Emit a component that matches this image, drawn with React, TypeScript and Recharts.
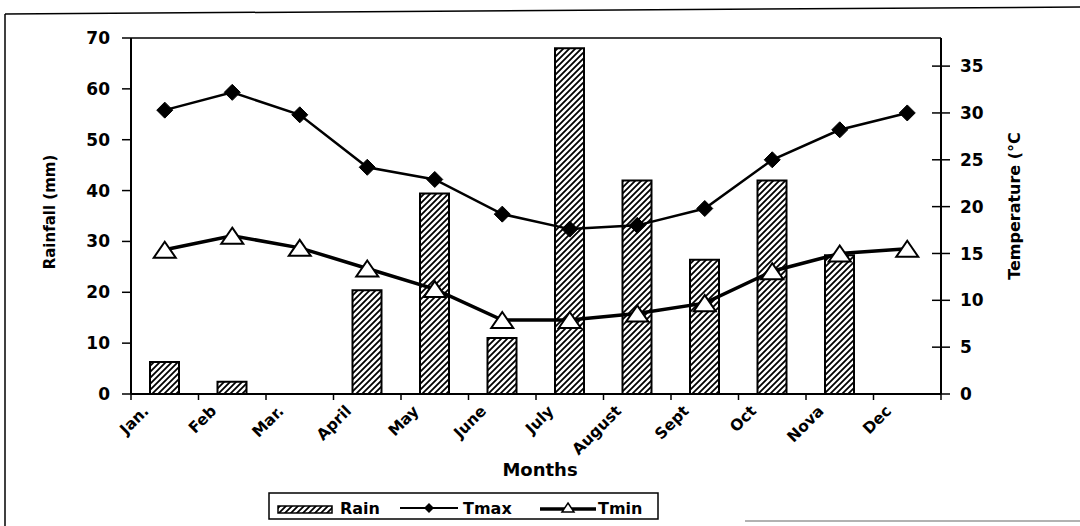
import React from "react";
import { ComposedChart, Bar, Line, XAxis, YAxis, ReferenceLine, Label } from "recharts";

const MONTHS = ["Jan.", "Feb", "Mar.", "April", "May", "June", "July", "August", "Sept", "Oct", "Nova", "Dec"];
const RAIN = [6.3, 2.4, 0, 20.4, 39.4, 11, 68, 42, 26.4, 42, 27.3, 0];
const TMAX = [30.3, 32.2, 29.8, 24.2, 22.9, 19.2, 17.6, 18.0, 19.8, 25.0, 28.2, 30.0];
const TMIN = [15.4, 16.9, 15.6, 13.4, 11.2, 7.9, 7.9, 8.6, 9.7, 13.1, 15.0, 15.5];
const LEFT_TICKS = [0, 10, 20, 30, 40, 50, 60, 70];
const RIGHT_TICKS = [0, 5, 10, 15, 20, 25, 30, 35];
const LEGEND_NAMES = ["Rain", "Tmax", "Tmin"];

const data = MONTHS.map((m, i) => ({ month: m, rain: RAIN[i], tmax: TMAX[i], tmin: TMIN[i] }));

const W = 1080;
const H = 526;
const FONT = "'DejaVu Sans', sans-serif";
const MARGIN = { top: 38, right: 20, bottom: 52, left: 20 };
const LEFT_W = 111;
const RIGHT_W = 119;
const PLOT_L = MARGIN.left + LEFT_W;
const PLOT_R = W - MARGIN.right - RIGHT_W;
const HALF_BAND = (PLOT_R - PLOT_L) / MONTHS.length / 2;

const MonthTick = (props: any) => {
  const { x, y, payload, index } = props;
  const off = payload && typeof payload.offset === "number" && payload.offset > 0 ? payload.offset : HALF_BAND;
  const tx = x - 15;
  const ty = y + 18;
  return (
    <g>
      <line x1={x - off} x2={x - off} y1={y} y2={y + 6} stroke="#000" strokeWidth={1.5} />
      {index === MONTHS.length - 1 && (
        <line x1={x + off} x2={x + off} y1={y} y2={y + 6} stroke="#000" strokeWidth={1.5} />
      )}
      <text
        x={tx}
        y={ty}
        transform={`rotate(-45, ${tx}, ${ty})`}
        textAnchor="end"
        fontFamily={FONT}
        fontWeight="bold"
        fontSize={15.5}
        fill="#000"
      >
        {payload.value}
      </text>
    </g>
  );
};

const RIGHT_TICK_SIZE = 9;
const RIGHT_TICK_MARGIN = 10;
const RightTick = (props: any) => {
  const { x, y, payload } = props;
  const ax = x - RIGHT_TICK_SIZE - RIGHT_TICK_MARGIN;
  return (
    <g>
      <line x1={ax - RIGHT_TICK_SIZE} x2={ax + RIGHT_TICK_SIZE} y1={y} y2={y} stroke="#000" strokeWidth={1.5} />
      <text x={x} y={y} dy="0.36em" textAnchor="start" fontFamily={FONT} fontWeight="bold" fontSize={17} fill="#000">
        {payload.value}
      </text>
    </g>
  );
};

const Diamond = (props: any) => {
  const { cx, cy, index } = props;
  if (cx == null || cy == null) return <g key={`d${index}`} />;
  const r = 8;
  return (
    <path
      key={`d${index}`}
      d={`M${cx},${cy - r} L${cx + r},${cy} L${cx},${cy + r} L${cx - r},${cy} Z`}
      fill="#000"
      stroke="#000"
    />
  );
};

const Triangle = (props: any) => {
  const { cx, cy, index } = props;
  if (cx == null || cy == null) return <g key={`t${index}`} />;
  const hw = 11;
  const hh = 8;
  return (
    <path
      key={`t${index}`}
      d={`M${cx},${cy - hh} L${cx + hw},${cy + hh} L${cx - hw},${cy + hh} Z`}
      fill="#fff"
      stroke="#000"
      strokeWidth={2}
    />
  );
};

const RainTitle = (props: any) => {
  const vb = props.viewBox || { x: MARGIN.left, y: MARGIN.top, width: LEFT_W, height: 356 };
  const cx = vb.x + 30;
  const cy = vb.y + vb.height / 2 - 4;
  return (
    <text
      x={cx}
      y={cy}
      transform={`rotate(-90, ${cx}, ${cy})`}
      textAnchor="middle"
      dominantBaseline="central"
      fontFamily={FONT}
      fontWeight="bold"
      fontSize={15}
      fill="#000"
    >
      Rainfall (mm)
    </text>
  );
};

const TempTitle = (props: any) => {
  const vb = props.viewBox || { x: PLOT_R, y: MARGIN.top, width: RIGHT_W, height: 356 };
  const cx = vb.x + 73;
  const cy = vb.y + vb.height / 2 - 10;
  return (
    <text
      x={cx}
      y={cy}
      transform={`rotate(-90, ${cx}, ${cy})`}
      textAnchor="middle"
      dominantBaseline="central"
      fontFamily={FONT}
      fontWeight="bold"
      fontSize={16}
      fill="#000"
    >
      Temperature (°C
    </text>
  );
};

const MonthsTitle = (props: any) => {
  const vb = props.viewBox || { x: PLOT_L, y: 394, width: PLOT_R - PLOT_L, height: 80 };
  return (
    <text
      x={vb.x + vb.width / 2 + 4}
      y={vb.y + 82}
      textAnchor="middle"
      fontFamily={FONT}
      fontWeight="bold"
      fontSize={18}
      fill="#000"
    >
      Months
    </text>
  );
};

const LegendBox = () => {
  const bx = 269;
  const by = 493;
  const bw = 389;
  const bh = 26;
  const base = by + 21;
  return (
    <svg width={W} height={H} style={{ position: "absolute", left: 0, top: 0, pointerEvents: "none" }}>
      <defs>
        <pattern id="hatchLegend" patternUnits="userSpaceOnUse" width={6} height={6}>
          <rect width={6} height={6} fill="#fff" />
          <path d="M-1,1 L1,-1 M0,6 L6,0 M5,7 L7,5" stroke="#000" strokeWidth={1.8} />
        </pattern>
      </defs>
      <line x1={5} y1={14} x2={W} y2={7} stroke="#000" strokeWidth={1.5} />
      <line x1={5} y1={14} x2={5} y2={H} stroke="#000" strokeWidth={1.5} />
      <line x1={745} y1={521} x2={W} y2={521} stroke="#999" strokeWidth={1.5} />
      <rect x={bx} y={by} width={bw} height={bh} fill="#fff" stroke="#000" strokeWidth={1.5} />
      <rect x={278} y={base - 8} width={54} height={7} fill="url(#hatchLegend)" stroke="#000" strokeWidth={1.5} />
      <text x={340} y={base} fontFamily={FONT} fontWeight="bold" fontSize={16} fill="#000">
        {LEGEND_NAMES[0]}
      </text>
      <line x1={400} y1={base - 6} x2={458} y2={base - 6} stroke="#000" strokeWidth={2} />
      <path d={`M429,${base - 11} L434,${base - 6} L429,${base - 1} L424,${base - 6} Z`} fill="#000" />
      <text x={463} y={base} fontFamily={FONT} fontWeight="bold" fontSize={16} fill="#000">
        {LEGEND_NAMES[1]}
      </text>
      <line x1={540} y1={base - 5} x2={596} y2={base - 5} stroke="#000" strokeWidth={3.5} />
      <path d={`M568,${base - 11} L574,${base - 2} L562,${base - 2} Z`} fill="#fff" stroke="#000" strokeWidth={1.5} />
      <text x={598} y={base} fontFamily={FONT} fontWeight="bold" fontSize={16} fill="#000">
        {LEGEND_NAMES[2]}
      </text>
    </svg>
  );
};

export default function App() {
  return (
    <div style={{ position: "absolute", left: 0, top: 0, width: W, height: H, background: "#fff" }}>
      <ComposedChart width={W} height={H} data={data} margin={MARGIN}>
        <defs>
          <pattern id="hatch" patternUnits="userSpaceOnUse" width={6} height={6}>
            <rect width={6} height={6} fill="#fff" />
            <path d="M-1,1 L1,-1 M0,6 L6,0 M5,7 L7,5" stroke="#000" strokeWidth={1.8} />
          </pattern>
        </defs>
        <XAxis
          dataKey="month"
          interval={0}
          tick={<MonthTick />}
          tickLine={false}
          tickSize={0}
          tickMargin={0}
          height={80}
          axisLine={{ stroke: "#000", strokeWidth: 2 }}
          label={<Label content={<MonthsTitle />} />}
        />
        <YAxis
          yAxisId="left"
          domain={[0, 70]}
          ticks={LEFT_TICKS}
          interval={0}
          width={LEFT_W}
          tickSize={9}
          tickMargin={12}
          axisLine={{ stroke: "#000", strokeWidth: 2 }}
          tickLine={{ stroke: "#000", strokeWidth: 1.5 }}
          tick={{ fill: "#000", fontSize: 17, fontWeight: "bold", fontFamily: FONT }}
          label={<Label content={<RainTitle />} />}
        />
        <YAxis
          yAxisId="right"
          orientation="right"
          domain={[0, 38]}
          ticks={RIGHT_TICKS}
          interval={0}
          width={RIGHT_W}
          tickSize={RIGHT_TICK_SIZE}
          tickMargin={RIGHT_TICK_MARGIN}
          axisLine={{ stroke: "#000", strokeWidth: 2 }}
          tickLine={false}
          tick={<RightTick />}
          label={<Label content={<TempTitle />} />}
        />
        <ReferenceLine yAxisId="left" y={70} stroke="#000" strokeWidth={1.5} />
        <Bar
          yAxisId="left"
          dataKey="rain"
          name={LEGEND_NAMES[0]}
          barSize={29}
          fill="url(#hatch)"
          stroke="#000"
          strokeWidth={2}
          isAnimationActive={false}
        />
        <Line
          yAxisId="right"
          dataKey="tmax"
          name={LEGEND_NAMES[1]}
          type="linear"
          stroke="#000"
          strokeWidth={2.5}
          dot={<Diamond />}
          activeDot={false}
          isAnimationActive={false}
        />
        <Line
          yAxisId="right"
          dataKey="tmin"
          name={LEGEND_NAMES[2]}
          type="linear"
          stroke="#000"
          strokeWidth={3.5}
          dot={<Triangle />}
          activeDot={false}
          isAnimationActive={false}
        />
      </ComposedChart>
      <LegendBox />
    </div>
  );
}
